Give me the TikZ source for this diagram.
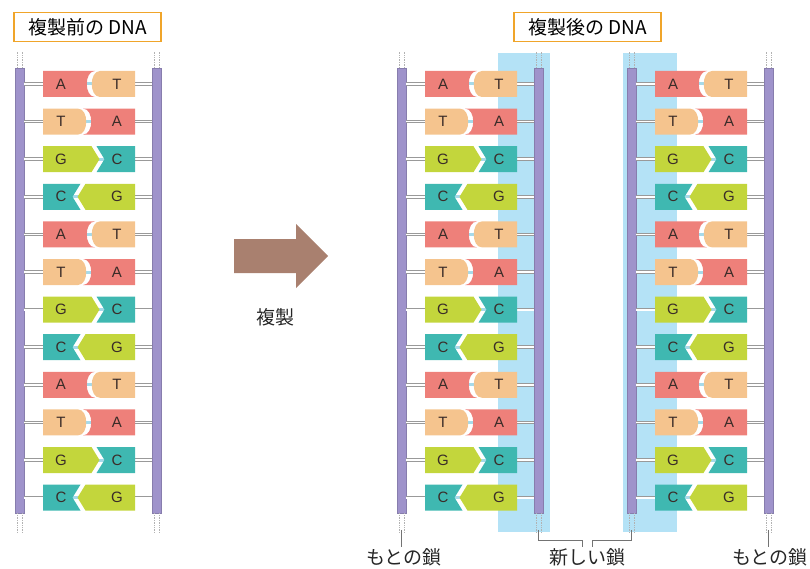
\documentclass[tikz,border=0pt]{standalone}
\usepackage{fontspec}
\setmainfont{Liberation Sans}
\newfontfamily\jpfont{Noto Sans CJK JP}
\usetikzlibrary{positioning}

\definecolor{baseA}{HTML}{EE807A}
\definecolor{baseT}{HTML}{F5C48E}
\definecolor{baseG}{HTML}{C3D63C}
\definecolor{baseC}{HTML}{3FB8B1}
\definecolor{strand}{HTML}{9F93CB}
\definecolor{newstrand}{HTML}{B4E2F6}
\definecolor{hbond}{HTML}{A6DAEA}
\definecolor{copyarrow}{HTML}{A9806F}
\definecolor{titleframe}{HTML}{F0A52A}
\definecolor{lettercol}{HTML}{3A2C28}

\tikzset{
  strandbar/.style={fill=strand, draw=strand!85!black, line width=0.5pt, minimum width=9pt, minimum height=445pt, inner sep=0pt},
  rung/.style={draw=black!40, double=white, double distance=1.8pt, line width=0.9pt},
  ends/.style={draw=black!30, densely dotted, line width=0.7pt},
  hb/.style={draw=hbond, line width=3pt},
  letter/.style={inner sep=0pt, text=lettercol, font=\fontsize{15}{15}\selectfont},
  title/.style={draw=titleframe, line width=1.5pt, fill=white, minimum width=147pt, minimum height=29pt, font=\jpfont\fontsize{19}{19}\selectfont},
  caption/.style={inner sep=1pt, text=black!85, font=\jpfont\fontsize{19}{19}\selectfont},
  lead/.style={draw=black!55, line width=0.7pt}
}

% #1 name, #2 left x, #3 y, #4/#5 bases, #6 junction, #7 bulge, #8 1 = rounded
\newcommand\basepair[8]{%
  \pgfmathsetmacro\edgeL{#2+#6-2.5}
  \pgfmathsetmacro\edgeR{#2+#6+2.5}
  \pgfmathsetmacro\bendL{\edgeL+#7}
  \pgfmathsetmacro\bendR{\edgeR+#7}
  \pgfmathsetmacro\hbx{#2+#6+8*(#7)/abs(#7)}
  \draw[hb] (\hbx-6,#3) -- (\hbx+6,#3);
  \ifnum#8=1
    \fill[base#4] (#2,#3+13) -- (#2,#3-13) -- (\edgeL,#3-13) .. controls (\bendL,#3-13) and (\bendL,#3+13) .. (\edgeL,#3+13) -- cycle;
    \fill[base#5] (#2+92,#3+13) -- (#2+92,#3-13) -- (\edgeR,#3-13) .. controls (\bendR,#3-13) and (\bendR,#3+13) .. (\edgeR,#3+13) -- cycle;
  \else
    \fill[base#4] (#2,#3+13) -- (#2,#3-13) -- (\edgeL,#3-13) -- (\bendL,#3) -- (\edgeL,#3+13) -- cycle;
    \fill[base#5] (#2+92,#3+13) -- (#2+92,#3-13) -- (\edgeR,#3-13) -- (\bendR,#3) -- (\edgeR,#3+13) -- cycle;
  \fi
  \node[letter] (#1l) at (#2+18,#3) {#4};
  \node[letter] (#1r) at (#2+74,#3) {#5};
}

\begin{document}
\begin{tikzpicture}[x=1pt, y=-1pt]
  \useasboundingbox (0,0) rectangle (810,569);

  \fill[newstrand] (498,53) rectangle (550,532);
  \fill[newstrand] (623,53) rectangle (677,532);

  \foreach \s/\dx in {a/0, b/382, c/612} {
    \node[strandbar] (bbl\s) at (19.5+\dx,290.5) {};
    \node[strandbar] (bbr\s) at (156.5+\dx,290.5) {};
  }
  \foreach \b in {bbla,bbra,bblb,bbrb,bblc,bbrc} {
    \foreach \o in {-2.5,2.5} {
      \draw[ends] ([xshift=\o pt]\b.north) -- ++(0,-16);
      \draw[ends] ([xshift=\o pt]\b.south) -- ++(0,19);
    }
  }

  \foreach \q in {0,1,2} {
    \foreach \l/\r/\j/\b/\k [count=\m from 0] in {A/T/54.5/-11/1, T/A/37.5/11/1, G/C/51/8/0, C/G/40/-8/0} {
      \pgfmathsetmacro\y{84+37.6*(4*\q+\m)}
      \coordinate (row\q\m) at (0,\y);
      \foreach \s/\dx in {a/0, b/382, c/612} {
        \draw[rung] (bbl\s.east |- row\q\m) -- (43+\dx,\y);
        \draw[rung] (135+\dx,\y) -- (bbr\s.west |- row\q\m);
        \basepair{p\s\q\m}{43+\dx}{\y}{\l}{\r}{\j}{\b}{\k}
      }
    }
  }

  \node[title] (before) at (87.5,27) {複製前の DNA};
  \node[title] (after) at (587.5,27) {複製後の DNA};

  \fill[copyarrow] (234,239) -- (296,239) -- (296,224) -- (328,256) -- (296,288) -- (296,273) -- (234,273) -- cycle;
  \node[caption] (copylabel) at (275,317) {複製};

  \node[caption] (old1) at (404,557) {もとの鎖};
  \node[caption] (newstr) at (587,557) {新しい鎖};
  \node[caption] (old2) at (770,557) {もとの鎖};
  \draw[lead] (bblb.south) ++(0,17) -- (bblb.south |- old1.north);
  \draw[lead] (bbrc.south) ++(0,17) -- (bbrc.south |- old2.north);
  \draw[lead] (bbrb.south) ++(0,17) -- ++(0,10) -| ([xshift=-5pt]newstr.north);
  \draw[lead] (bblc.south) ++(0,17) -- ++(0,10) -| ([xshift=5pt]newstr.north);
\end{tikzpicture}
\end{document}
